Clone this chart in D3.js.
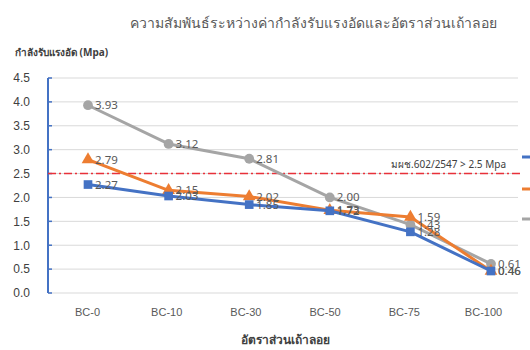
<!DOCTYPE html>
<html><head><meta charset="utf-8">
<script src="https://cdn.jsdelivr.net/npm/d3@7"></script>
<style>
body{margin:0;background:#fff;}
svg{display:block;font-family:"Noto Sans","Open Sans",sans-serif;}
</style></head>
<body><svg id="c" width="530" height="350"></svg>
<script>
const categories = ["BC-0","BC-10","BC-30","BC-50","BC-75","BC-100"];
const seriesBlue = [2.27, 2.03, 1.85, 1.72, 1.28, 0.46];
const seriesOrange = [2.79, 2.15, 2.02, 1.73, 1.59, 0.46];
const seriesGray = [3.93, 3.12, 2.81, 2.00, 1.43, 0.61];
const yTicks = [0, 0.5, 1.0, 1.5, 2.0, 2.5, 3.0, 3.5, 4.0, 4.5];
const threshold = 2.5;
const thresholdLabel = "มผช.602/2547 > 2.5 Mpa";
const titleText = "ความสัมพันธ์ระหว่างค่ากำลังรับแรงอัดและอัตราส่วนเถ้าลอย";
const yTitle = "กำลังรับแรงอัด (Mpa)";
const xTitle = "อัตราส่วนเถ้าลอย";

const svg = d3.select("#c");
const y = d3.scaleLinear().domain([0, 4.5]).range([293, 78]);
const x = d3.scalePoint().domain(categories).range([88, 491]);
const xl = d3.scalePoint().domain(categories).range([87, 483]);
const left = 48, right = 518;

// gridlines
svg.append("g").selectAll("line").data(yTicks).join("line")
  .attr("x1", left).attr("x2", right)
  .attr("y1", d => y(d)).attr("y2", d => y(d))
  .attr("stroke", "#d9d9d9").attr("stroke-width", 1);

// y axis
const yAxis = svg.append("g").attr("transform", `translate(${left},0)`)
  .call(d3.axisLeft(y).tickValues(yTicks).tickFormat(d3.format(".1f")).tickSize(0).tickPadding(18));
yAxis.select(".domain").remove();
yAxis.selectAll("text").attr("fill", "#404040").style("font-size", "12px");
svg.append("line").attr("x1", left).attr("x2", left).attr("y1", y(4.5)).attr("y2", y(0))
  .attr("stroke", "#4472C4").attr("stroke-width", 2);
svg.append("g").selectAll("line").data(yTicks).join("line")
  .attr("x1", left).attr("x2", left + 4)
  .attr("y1", d => y(d)).attr("y2", d => y(d))
  .attr("stroke", "#4472C4").attr("stroke-width", 1.5);

// x axis labels
const xAxis = svg.append("g").attr("transform", `translate(0,${y(0)})`)
  .call(d3.axisBottom(xl).tickSize(0).tickPadding(15));
xAxis.select(".domain").remove();
xAxis.selectAll("text").attr("fill", "#595959").style("font-size", "11px");

// threshold line
svg.append("line").attr("x1", left).attr("x2", 520)
  .attr("y1", y(threshold)).attr("y2", y(threshold))
  .attr("stroke", "#E8313A").attr("stroke-width", 1.6).attr("stroke-dasharray", "8,3,2,3");
svg.append("text").attr("x", 506).attr("y", y(threshold) - 6).attr("text-anchor", "end")
  .attr("fill", "#404040").style("font-size", "10px").text(thresholdLabel);

const series = [
  {vals: seriesGray, color: "#A5A5A5", shape: d3.symbolCircle, size: 75},
  {vals: seriesOrange, color: "#ED7D31", shape: d3.symbolTriangle, size: 70},
  {vals: seriesBlue, color: "#4472C4", shape: d3.symbolSquare, size: 75},
];
const line = d3.line().x((d, i) => x(categories[i])).y(d => y(d));
series.forEach(s => {
  svg.append("path").datum(s.vals).attr("d", line).attr("fill", "none")
    .attr("stroke", s.color).attr("stroke-width", 3).attr("stroke-linejoin", "round");
  svg.append("g").selectAll("path").data(s.vals).join("path")
    .attr("d", d3.symbol().type(s.shape).size(s.size))
    .attr("transform", (d, i) => `translate(${x(categories[i])},${y(d)})`)
    .attr("fill", s.color);
});
series.forEach(s => {
  svg.append("g").selectAll("text").data(s.vals).join("text")
    .attr("x", (d, i) => x(categories[i]) + 7).attr("y", d => y(d))
    .attr("dy", "0.35em").attr("fill", "#595959").style("font-size", "11.5px")
    .text(d => d.toFixed(2));
});

// legend stubs (cut off at right edge)
[seriesBlue, seriesOrange, seriesGray].forEach((s, i) => {
  svg.append("line").attr("x1", 522).attr("x2", 532)
    .attr("y1", [157, 189, 219][i]).attr("y2", [157, 189, 219][i])
    .attr("stroke", ["#4472C4", "#ED7D31", "#A5A5A5"][i]).attr("stroke-width", 3);
});

// titles
svg.append("text").attr("x", 313).attr("y", 28).attr("text-anchor", "middle")
  .attr("fill", "#595959").style("font-size", "14px").text(titleText);
svg.append("text").attr("x", 15).attr("y", 56)
  .attr("fill", "#404040").style("font-size", "10px").style("font-weight", "bold").text(yTitle);
svg.append("text").attr("x", 285).attr("y", 344).attr("text-anchor", "middle")
  .attr("fill", "#404040").style("font-size", "12px").style("font-weight", "bold").text(xTitle);
</script></body></html>
